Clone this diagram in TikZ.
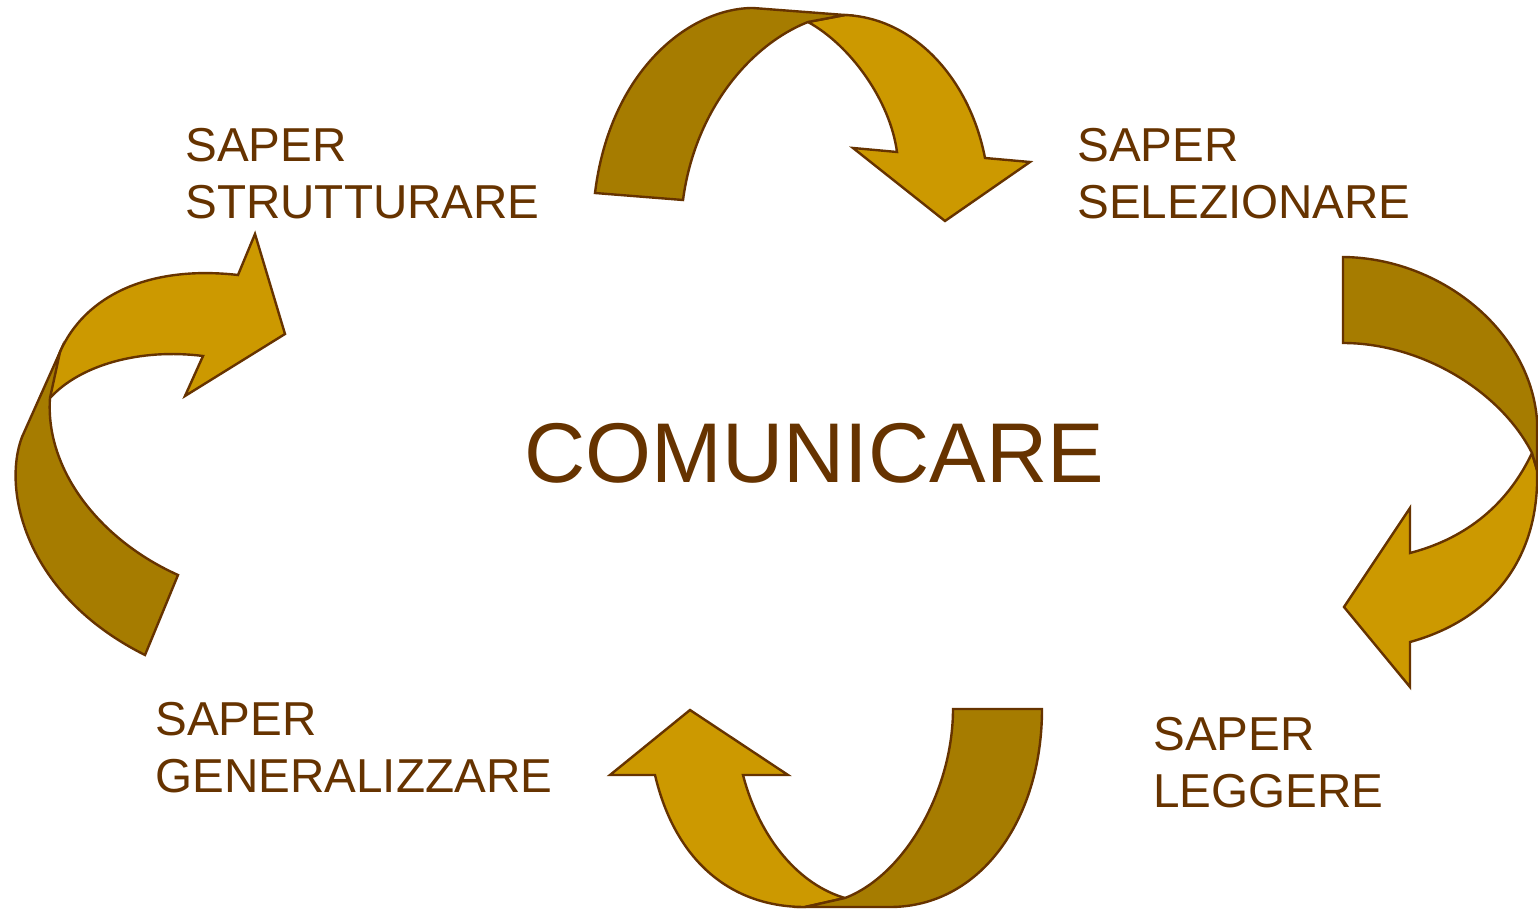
\documentclass[tikz,border=0pt]{standalone}
\usepackage{fontspec}
\setmainfont{Liberation Sans}
\usepackage{tikz}

\definecolor{ochre}{HTML}{CC9900}
\definecolor{darkochre}{HTML}{A67C00}
\definecolor{umber}{HTML}{663300}

\begin{document}
\begin{tikzpicture}[x=0.5pt, y=-0.5pt,
    lightband/.style={fill=ochre, draw=umber, line width=1.2pt, line join=miter},
    darkband/.style={fill=darkochre, draw=umber, line width=1.2pt, line join=miter},
    caption/.style={anchor=north west, inner sep=0pt, text=umber, align=left,
        font=\fontsize{23.8pt}{28.5pt}\selectfont}]
\useasboundingbox (0,0) rectangle (1538,909);

% top arrow: towards SAPER SELEZIONARE
\draw[lightband] (808,22) .. controls (850,45) and (890,100) .. (897,152)
    -- (853,148) -- (945,221) -- (1030,162) -- (985,158)
    .. controls (970,80) and (915,18) .. (845,15) -- cycle;
\draw[darkband] (595,193) .. controls (610,70) and (690,8) .. (753,8)
    -- (845,15) -- (808,22)
    .. controls (750,45) and (695,110) .. (683,200) -- cycle;

% right arrow: towards SAPER LEGGERE
\draw[lightband] (1532,453) .. controls (1505,510) and (1460,540) .. (1410,553)
    -- (1410,508) -- (1344,607) -- (1410,687) -- (1410,642)
    .. controls (1490,620) and (1540,560) .. (1537,470) -- cycle;
\draw[darkband] (1343,257) .. controls (1440,258) and (1530,330) .. (1537,420)
    -- (1537,470) -- (1532,453)
    .. controls (1500,390) and (1420,343) .. (1343,343) -- cycle;

% bottom arrow: towards SAPER GENERALIZZARE
\draw[lightband] (690,710) -- (788,775) -- (743,775)
    .. controls (760,840) and (800,885) .. (845,898) -- (805,907)
    .. controls (730,907) and (675,860) .. (655,775) -- (610,775) -- cycle;
\draw[darkband] (953,709) -- (1042,709)
    .. controls (1042,820) and (980,907) .. (890,907) -- (805,907) -- (845,898)
    .. controls (905,875) and (953,790) .. (953,709) -- cycle;

% left arrow: towards SAPER STRUTTURARE
\draw[lightband] (255,234) -- (285,334) -- (185,396) -- (203,356)
    .. controls (140,348) and (80,365) .. (50,398)
    .. controls (52,380) and (55,365) .. (60,352)
    .. controls (85,295) and (150,265) .. (238,275) -- cycle;
\draw[darkband] (60,352) -- (22,437) .. controls (2,490) and (25,595) .. (145,655)
    -- (178,575) .. controls (100,540) and (45,470) .. (50,398) -- cycle;

% labels
\node[caption] (strutturare) at (185,128) {SAPER\\STRUTTURARE};
\node[caption] (selezionare) at (1077,128) {SAPER\\SELEZIONARE};
\node[caption] (leggere) at (1153,717) {SAPER\\LEGGERE};
\node[caption] (generalizzare) at (155,702) {SAPER\\GENERALIZZARE};
\node[caption, font=\fontsize{42.4pt}{50pt}\selectfont] (comunicare) at (524,423) {COMUNICARE};
\end{tikzpicture}
\end{document}
